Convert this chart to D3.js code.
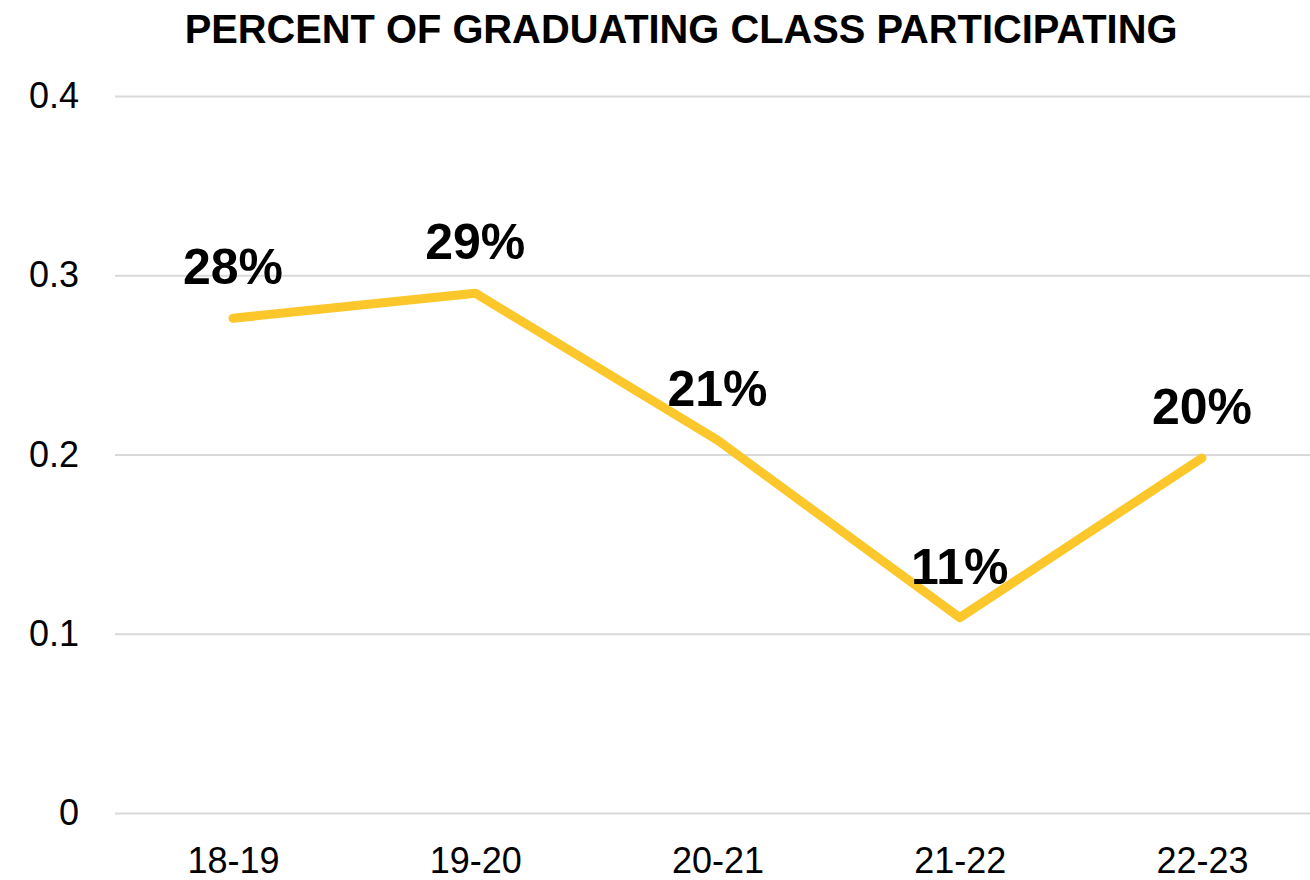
<!DOCTYPE html>
<html>
<head>
<meta charset="utf-8">
<script src="https://cdn.jsdelivr.net/npm/d3@7"></script>
<style>
  body { margin: 0; background: #fff; }
  text { font-family: "Liberation Sans", Arial, sans-serif; }
</style>
</head>
<body>
<div id="chart"></div>
<script>
// chart data
const years = ['18-19', '19-20', '20-21', '21-22', '22-23'];
const percent = [0.276, 0.29, 0.208, 0.109, 0.198];
const yTicks = [0, 0.1, 0.2, 0.3, 0.4];
const title = 'PERCENT OF GRADUATING CLASS PARTICIPATING';

const width = 1310, height = 880;
const svg = d3.select('#chart').append('svg')
  .attr('width', width).attr('height', height);

const x = d3.scalePoint().domain(years).range([233, 1202]);
const y = d3.scaleLinear().domain([0, 0.4]).range([813, 96]);

// gridlines + y labels
const yAxis = svg.append('g').attr('transform', 'translate(115,0)')
  .call(d3.axisLeft(y).tickValues(yTicks).tickSize(-(width - 115)).tickPadding(36)
    .tickFormat(d => d === 0 ? '0' : d3.format('.1f')(d)));
yAxis.select('.domain').remove();
yAxis.selectAll('line').attr('stroke', '#d9d9d9').attr('stroke-width', 2);
yAxis.selectAll('text').attr('font-size', 36).attr('fill', '#000')
  .attr('font-family', '"Liberation Sans", Arial, sans-serif');

// x labels
const xAxis = svg.append('g').attr('transform', 'translate(0,813)')
  .call(d3.axisBottom(x).tickSize(0).tickPadding(34));
xAxis.select('.domain').remove();
xAxis.selectAll('text').attr('font-size', 36).attr('fill', '#000')
  .attr('font-family', '"Liberation Sans", Arial, sans-serif');

// line
const line = d3.line().x((d, i) => x(years[i])).y(d => y(d));
svg.append('path').datum(percent)
  .attr('fill', 'none').attr('stroke', '#fbc72a').attr('stroke-width', 9)
  .attr('stroke-linecap', 'round').attr('stroke-linejoin', 'round')
  .attr('d', line);

// data labels
svg.append('g').selectAll('text').data(percent).join('text')
  .attr('x', (d, i) => x(years[i]))
  .attr('y', d => y(d) - 34)
  .attr('text-anchor', 'middle')
  .attr('font-size', 50).attr('font-weight', 'bold').attr('fill', '#000')
  .text(d => Math.round(d * 100) + '%');

// title
const t = svg.append('text')
  .attr('x', 681).attr('y', 43).attr('text-anchor', 'middle')
  .attr('font-size', 34).attr('font-weight', 'bold').attr('fill', '#000')
  .text(title);
const w = t.node().getComputedTextLength();
t.attr('font-size', 34 * 993 / w);
</script>
</body>
</html>
